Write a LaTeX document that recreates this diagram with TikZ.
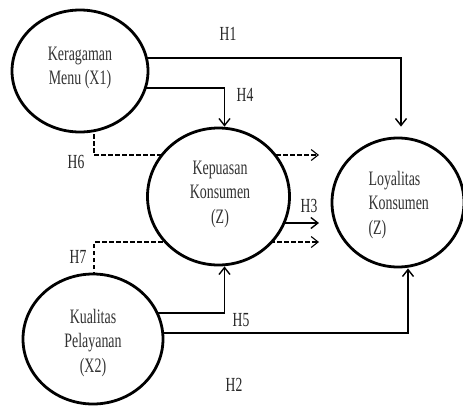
\documentclass[tikz,border=0pt]{standalone}
\usepackage{fontspec}
\setmainfont{Liberation Serif}
\newfontfamily\condfont[FakeStretch=0.68]{Liberation Serif}
\usetikzlibrary{shapes.geometric,arrows.meta,backgrounds}
\begin{document}
\begin{tikzpicture}[x=1pt,y=-1pt,
  var/.style={ellipse,draw,line width=2.8pt,fill=white,inner sep=0pt},
  txt/.style={font=\condfont\fontsize{20.5}{24.5}\selectfont,text=black!80,align=center},
  lbl/.style={font=\condfont\fontsize{20}{22}\selectfont,text=black!85},
  path/.style={line width=1.6pt,-{Straight Barb[length=7pt,width=11pt,line width=1.4pt]}},
  dpath/.style={line width=1.1pt,dash pattern=on 4.5pt off 2.5pt,-{Straight Barb[length=7pt,width=11pt,line width=1.1pt]}}]
\useasboundingbox (0,0) rectangle (463,405);
\node[var,minimum width=136pt,minimum height=122pt] (x1) at (80,71) {};
\node[txt] (x1t) at (80,68) {Keragaman\\Menu (X1)};
\node[var,minimum width=142pt,minimum height=137pt] (z) at (218.5,196.5) {};
\node[txt] (zt) at (220,194) {Kepuasan\\Konsumen\\(Z)};
\node[var,minimum width=132pt,minimum height=129pt] (ly) at (398,202.5) {};
\node[txt,align=left,anchor=west] (lyt) at (365,205) {Loyalitas\\Konsumen\\(Z)};
\node[var,minimum width=140pt,minimum height=130pt] (x2) at (93,339) {};
\node[txt] (x2t) at (93,343) {Kualitas\\Pelayanan\\(X2)};
\coordinate (h6end) at (319,155);
\coordinate (h7end) at (319,242);
\coordinate (h3end) at (319,223);
\begin{scope}[on background layer]
\draw[path] (x1.center |- 0,58) -| ([xshift=3pt,yshift=10pt]ly.north);
\draw[path] (x1.center |- 0,88) -| ([xshift=6pt]z.north);
\draw[dpath] (x1.center -| 94,0) |- (h6end);
\draw[dpath] (x2.center -| 94,0) |- (h7end);
\draw[path] (z.center |- h3end) -- (h3end);
\draw[path] (x2.center |- 0,313) -| ([xshift=6pt]z.south);
\draw[path] (x2.center |- 0,333) -| ([xshift=10pt]ly.south);
\end{scope}
\node[lbl] (h1) at (228,34) {H1};
\node[lbl] (h4) at (245,95) {H4};
\node[lbl] (h6) at (76,162) {H6};
\node[lbl] (h7) at (78,257) {H7};
\node[lbl] (h3) at (309,206) {H3};
\node[lbl] (h5) at (241,320) {H5};
\node[lbl] (h2) at (234,385) {H2};
\end{tikzpicture}
\end{document}
